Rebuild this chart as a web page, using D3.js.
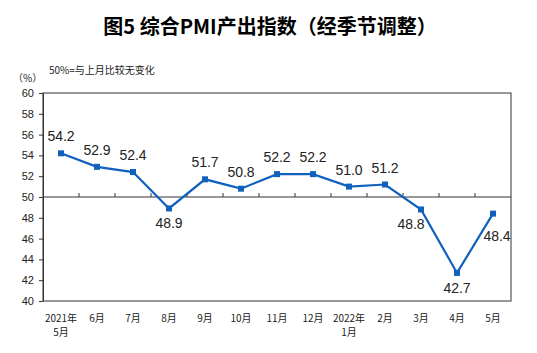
<!DOCTYPE html>
<html>
<head>
<meta charset="utf-8">
<script src="https://cdn.jsdelivr.net/npm/d3@7"></script>
<style>
  body { margin: 0; background: #fff; }
  svg { display: block; }
  text { font-family: Arial, "Liberation Sans", sans-serif; fill: #222; }
</style>
</head>
<body>
<svg id="chart" width="537" height="353"></svg>
<script>
// data
const months = ["2021年|5月", "6月", "7月", "8月", "9月", "10月", "11月", "12月", "2022年|1月", "2月", "3月", "4月", "5月"];
const pmi = [54.2, 52.9, 52.4, 48.9, 51.7, 50.8, 52.2, 52.2, 51.0, 51.2, 48.8, 42.7, 48.4];
const yTicks = [40, 42, 44, 46, 48, 50, 52, 54, 56, 58, 60];
// where each value label sits relative to its point
const labelSide = ["up", "up", "up", "down", "up", "up", "up", "up", "up", "up", "downleft", "down", "right"];

const svg = d3.select("#chart");
const margin = { top: 93, right: 26, bottom: 52, left: 43 };
const width = +svg.attr("width") - margin.left - margin.right;
const height = +svg.attr("height") - margin.top - margin.bottom;
const g = svg.append("g").attr("transform", "translate(" + margin.left + "," + margin.top + ")");

const x = d3.scaleBand().domain(months).range([0, width]);
const y = d3.scaleLinear().domain([40, 60]).range([height, 0]);

// title
svg.append("text")
  .attr("x", 270).attr("y", 34)
  .attr("text-anchor", "middle")
  .style("font-family", "'Noto Sans CJK SC', sans-serif")
  .style("font-weight", "bold")
  .style("font-size", "20px")
  .style("fill", "#000")
  .text("图5 综合PMI产出指数（经季节调整）");

svg.append("text")
  .attr("x", 49).attr("y", 74)
  .style("font-family", "'Noto Sans CJK SC', sans-serif")
  .style("font-size", "10px")
  .text("50%=与上月比较无变化");

svg.append("text")
  .attr("x", 13).attr("y", 82)
  .style("font-family", "'Noto Sans CJK SC', sans-serif")
  .style("font-size", "10px")
  .text("（%）");

// frame
g.append("rect")
  .attr("width", width).attr("height", height)
  .attr("fill", "none").attr("stroke", "#333").attr("stroke-width", 1);

// y axis
const yAxis = g.append("g")
  .call(d3.axisLeft(y).tickValues(yTicks).tickSize(4).tickSizeOuter(0).tickPadding(5));
yAxis.select(".domain").attr("stroke", "#333");
yAxis.selectAll(".tick line").attr("stroke", "#333");
yAxis.selectAll(".tick text").style("font-size", "11px").style("font-family", "Arial, 'Liberation Sans', sans-serif").attr("fill", "#222");

// 50 baseline with category ticks pointing up
g.append("line")
  .attr("x1", 0).attr("x2", width)
  .attr("y1", y(50)).attr("y2", y(50))
  .attr("stroke", "#333");
g.selectAll(".btick")
  .data(months.slice(1))
  .enter()
  .append("line")
  .attr("class", "btick")
  .attr("x1", d => x(d)).attr("x2", d => x(d))
  .attr("y1", y(50)).attr("y2", y(50) - 4)
  .attr("stroke", "#333");

// x labels (two lines where needed)
const xl = g.selectAll(".xlab")
  .data(months)
  .enter()
  .append("text")
  .attr("class", "xlab")
  .attr("text-anchor", "middle")
  .style("font-family", "'Noto Sans CJK SC', sans-serif")
  .style("font-size", "10px")
  .attr("transform", d => "translate(" + (x(d) + x.bandwidth() / 2) + "," + (height + 21) + ")");
xl.each(function(d) {
  const parts = d.split("|");
  const t = d3.select(this);
  parts.forEach((p, i) => {
    t.append("tspan").attr("x", 0).attr("dy", i === 0 ? 0 : 14).text(p);
  });
});

// line + markers
const cx = (d, i) => x(months[i]) + x.bandwidth() / 2;
const line = d3.line().x(cx).y(d => y(d));
g.append("path")
  .datum(pmi)
  .attr("fill", "none")
  .attr("stroke", "#1060bd")
  .attr("stroke-width", 2.2)
  .attr("d", line);

g.selectAll(".pt")
  .data(pmi)
  .enter()
  .append("rect")
  .attr("class", "pt")
  .attr("x", (d, i) => cx(d, i) - 3)
  .attr("y", d => y(d) - 3)
  .attr("width", 6).attr("height", 6)
  .attr("fill", "#1060bd");

// value labels
const offs = {
  up: [0, -12],
  down: [0, 20],
  downleft: [-10, 20],
  right: [4, 27]
};
g.selectAll(".vlab")
  .data(pmi)
  .enter()
  .append("text")
  .attr("class", "vlab")
  .attr("text-anchor", "middle")
  .attr("x", (d, i) => cx(d, i) + offs[labelSide[i]][0])
  .attr("y", (d, i) => y(d) + offs[labelSide[i]][1])
  .style("font-size", "14px")
  .text(d => d.toFixed(1));
</script>
</body>
</html>
